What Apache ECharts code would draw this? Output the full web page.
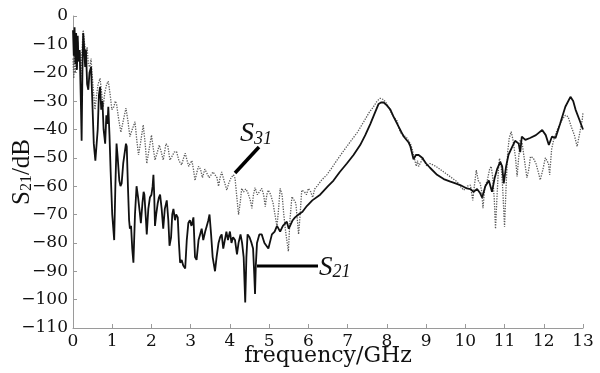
<!DOCTYPE html>
<html>
<head>
<meta charset="utf-8">
<script src="https://cdn.jsdelivr.net/npm/echarts@6/dist/echarts.min.js"></script>
<style>
  html, body { margin: 0; padding: 0; background: #fff; }
  #chart { width: 600px; height: 373px; }
</style>
</head>
<body>
<div id="chart"></div>
<script>
// S21 (solid), frequency in GHz and level in dB
const s21Freq = [0.00,0.02,0.04,0.06,0.08,0.10,0.12,0.14,0.17,0.20,0.22,0.24,0.26,0.28,0.31,0.33,0.36,0.39,0.42,0.46,
  0.49,0.53,0.57,0.60,0.63,0.66,0.69,0.72,0.75,0.78,0.82,0.85,0.88,0.90,0.93,0.96,1.00,1.05,1.08,1.11,
  1.14,1.18,1.21,1.24,1.28,1.31,1.35,1.37,1.40,1.43,1.45,1.48,1.51,1.54,1.58,1.62,1.66,1.70,1.73,1.77,
  1.80,1.82,1.86,1.88,1.92,1.96,2.00,2.03,2.05,2.07,2.09,2.12,2.16,2.19,2.22,2.26,2.30,2.34,2.39,2.43,
  2.46,2.50,2.53,2.56,2.60,2.63,2.67,2.70,2.73,2.77,2.81,2.86,2.90,2.94,2.98,3.02,3.07,3.11,3.15,3.20,
  3.24,3.28,3.32,3.37,3.41,3.45,3.48,3.52,3.56,3.62,3.66,3.71,3.75,3.79,3.83,3.87,3.91,3.95,4.00,4.04,
  4.08,4.13,4.18,4.22,4.27,4.31,4.35,4.39,4.42,4.45,4.50,4.55,4.59,4.62,4.64,4.66,4.69,4.75,4.81,4.88,
  4.98,5.07,5.14,5.20,5.28,5.35,5.45,5.50,5.54,5.60,5.66,5.75,5.85,5.96,6.10,6.30,6.50,6.64,6.80,6.98,
  7.15,7.32,7.45,7.58,7.70,7.79,7.85,7.92,8.00,8.09,8.17,8.30,8.43,8.55,8.60,8.68,8.74,8.81,8.90,9.00,
  9.10,9.28,9.45,9.62,9.75,9.87,10.04,10.13,10.21,10.30,10.38,10.43,10.51,10.60,10.68,10.75,10.81,10.89,10.94,10.98,
  11.04,11.10,11.20,11.27,11.32,11.36,11.40,11.44,11.53,11.65,11.80,11.96,12.05,12.13,12.21,12.30,12.42,12.55,12.68,12.75,
  12.81,12.92,13.00];
const s21Db = [-5,-14,-4,-17,-6,-19,-7,-16,-12,-30,-44,-20,-6,-10,-18,-12,-24,-26,-20,-18,
  -29,-45,-51,-51,-40,-28,-25,-33,-30,-40,-45,-35,-38,-32,-42,-55,-70,-79,-60,-45,
  -50,-58,-60,-59,-52,-49,-45,-46,-60,-72,-75,-74,-82,-87,-70,-60,-64,-69,-73,-66,
  -62,-63,-72,-77,-68,-64,-63,-60,-56,-63,-74,-70,-66,-64,-63,-68,-75,-68,-65,-72,
  -81,-78,-70,-68,-72,-70,-71,-80,-87,-86,-88,-89,-79,-73,-72,-74,-71,-85,-86,-79,
  -77,-75,-79,-76,-74,-72,-70,-77,-85,-90,-85,-80,-78,-77,-82,-79,-76,-79,-76,-80,
  -78,-79,-84,-80,-77,-80,-85,-101,-85,-77,-78,-80,-82,-91,-98,-88,-80,-77,-77,-80,
  -82,-77,-76,-74,-76,-74,-72.5,-75,-75,-72,-71,-70,-69,-67,-65,-63,-60,-58,-55,-52,
  -49,-45.5,-42,-38,-34,-31,-30.5,-30.5,-31.5,-33,-35.5,-39,-42.5,-44.5,-46,-50.5,-49,-49,-50,-52,
  -53.5,-56,-57.5,-58.4,-59,-59.6,-60.8,-61,-62,-61,-62.5,-64,-60,-58,-62,-57,-54,-51.4,-53,-59,
  -53,-49,-46,-44,-43.7,-45,-48,-42.5,-43.7,-43,-42,-40.2,-42,-45.5,-42.5,-43,-37.8,-32,-28.5,-30,
  -33,-37,-40];

// S31 (dotted)
const s31Freq = [0.00,0.02,0.04,0.06,0.08,0.10,0.12,0.15,0.18,0.20,0.23,0.26,0.29,0.33,0.36,0.39,0.43,0.46,0.49,0.53,
  0.56,0.60,0.64,0.69,0.73,0.77,0.81,0.86,0.90,0.95,0.99,1.04,1.08,1.11,1.16,1.22,1.28,1.35,1.40,1.45,
  1.51,1.58,1.62,1.67,1.73,1.79,1.84,1.88,1.94,2.00,2.04,2.09,2.15,2.20,2.25,2.30,2.37,2.42,2.47,2.52,
  2.58,2.64,2.70,2.77,2.82,2.86,2.91,2.95,3.03,3.07,3.11,3.16,3.20,3.25,3.30,3.36,3.41,3.47,3.52,3.57,
  3.62,3.67,3.71,3.75,3.79,3.85,3.92,3.97,4.03,4.09,4.13,4.17,4.22,4.26,4.30,4.35,4.40,4.45,4.52,4.56,
  4.60,4.64,4.70,4.75,4.81,4.86,4.90,4.94,4.98,5.04,5.10,5.16,5.20,5.24,5.28,5.33,5.37,5.42,5.49,5.53,
  5.58,5.63,5.68,5.72,5.75,5.79,5.83,5.90,5.95,6.00,6.06,6.11,6.16,6.22,6.34,6.47,6.60,6.73,6.90,7.07,
  7.25,7.41,7.55,7.66,7.75,7.83,7.92,8.00,8.09,8.17,8.26,8.34,8.43,8.51,8.60,8.64,8.70,8.75,8.78,8.81,
  8.85,8.92,9.02,9.10,9.15,9.25,9.35,9.45,9.55,9.65,9.79,9.87,9.96,10.05,10.13,10.19,10.23,10.28,10.33,10.38,
  10.42,10.45,10.50,10.56,10.62,10.66,10.70,10.74,10.77,10.80,10.84,10.87,10.91,10.95,11.00,11.04,11.08,11.12,11.17,11.22,
  11.28,11.32,11.36,11.40,11.45,11.50,11.57,11.62,11.66,11.73,11.80,11.86,11.91,11.98,12.04,12.08,12.12,12.15,12.20,12.25,
  12.34,12.45,12.55,12.62,12.70,12.78,12.85,12.92,12.98,13.00];
const s31Db = [-15,-22,-10,-20,-8,-18,-9,-16,-13,-22,-12,-5,-9,-14,-11,-17,-18,-15,-21,-28,
  -33,-28,-24,-22,-27,-32,-27,-24,-23,-28,-33,-32,-30,-31,-36,-41,-37,-32.5,-37,-42.5,
  -40,-37.3,-43,-49,-44,-38.4,-45,-52,-47,-42,-46,-50.8,-48,-45.5,-48,-50.8,-45,-46,-50.8,-51.4,
  -48,-47.8,-51,-52.5,-50,-48.4,-51,-53,-51,-54,-58,-55,-53,-54,-57,-54,-53.7,-57,-56,-55,
  -54.3,-57,-60,-57,-55,-58,-61.4,-59,-57,-56,-57.2,-63,-70,-66,-60.8,-62,-61,-62,-65,-67.8,
  -63,-60.5,-63,-63,-60.8,-63,-67.2,-63,-61.4,-63,-66,-71,-74.3,-68,-60.8,-63,-69.6,-76,-83,-72,
  -63.7,-63,-66,-72,-77,-70,-61.4,-62,-63,-60.8,-62,-64,-61,-60,-57.8,-56,-53.5,-50.8,-47.5,-44.3,
  -41,-37.3,-34,-32,-30,-29,-29.5,-31,-33.5,-35.5,-37,-41,-42,-43,-45,-46.7,-50,-53,-51,-53,
  -52,-50,-53,-52,-52,-53,-54,-55,-56,-57,-58.4,-60,-61.4,-60,-59.6,-65,-60,-54.3,-58,-59,
  -62,-67.8,-60,-58,-54,-53,-57,-65,-75,-66,-55,-50.2,-52,-60,-74.3,-60,-48,-43,-40.8,-44,
  -50,-56.6,-50,-43.7,-45,-50,-57,-54,-49.6,-50,-52,-55,-57.8,-54,-50,-49.6,-52,-56,-47,-43.7,
  -40.2,-37,-35,-35.5,-39,-42,-46,-41,-36.7,-34];

const zip = (xs, ys) => xs.map((x, i) => [x, ys[i]]);
const minus = v => String(v).replace('-', '\u2212');

const chart = echarts.init(document.getElementById('chart'));
chart.setOption({
  animation: false,
  backgroundColor: '#fff',
  grid: { left: 73, right: 17, top: 16, bottom: 45, outerBoundsMode: 'none' },
  xAxis: {
    type: 'value',
    min: 0,
    max: 13,
    interval: 1,
    name: 'frequency/GHz',
    nameLocation: 'middle',
    nameGap: 17,
    nameMoveOverlap: false,
    nameTextStyle: { fontFamily: 'DejaVu Serif', fontSize: 22, color: '#111' },
    axisLine: { onZero: false, lineStyle: { color: '#9a9a9a', width: 1 } },
    axisTick: { inside: true, length: 4, lineStyle: { color: '#9a9a9a' } },
    axisLabel: { fontFamily: 'DejaVu Serif', fontSize: 17, color: '#111', margin: 5 },
    splitLine: { show: false }
  },
  yAxis: {
    type: 'value',
    min: -110,
    max: 0,
    interval: 10,
    name: '{a|S}{b|21}{a|/dB}',
    nameLocation: 'middle',
    nameGap: 38,
    nameMoveOverlap: false,
    nameTextStyle: {
      rich: {
        a: { fontFamily: 'Liberation Serif', fontSize: 25, lineHeight: 26, color: '#111' },
        b: { fontFamily: 'Liberation Serif', fontSize: 16, lineHeight: 14, color: '#111', verticalAlign: 'bottom' }
      }
    },
    axisLine: { show: true, onZero: false, lineStyle: { color: '#9a9a9a', width: 1 } },
    axisTick: { show: true, inside: true, length: 4, lineStyle: { color: '#9a9a9a' } },
    axisLabel: { fontFamily: 'DejaVu Serif', fontSize: 17, color: '#111', margin: 5, formatter: minus },
    splitLine: { show: false }
  },
  series: [
    {
      name: 'S31',
      type: 'line',
      data: zip(s31Freq, s31Db),
      showSymbol: false,
      lineStyle: { color: '#5a5a5a', width: 1.3, type: 'dotted' },
      z: 2
    },
    {
      name: 'S21',
      type: 'line',
      data: zip(s21Freq, s21Db),
      showSymbol: false,
      lineStyle: { color: '#111', width: 1.8 },
      z: 3
    }
  ],
  graphic: [
    // leader lines and italic labels
    { type: 'line', shape: { x1: 235, y1: 173, x2: 259, y2: 147 }, style: { stroke: '#000', lineWidth: 3.5 } },
    { type: 'line', shape: { x1: 257, y1: 266, x2: 318, y2: 266 }, style: { stroke: '#000', lineWidth: 3 } },
    {
      type: 'text', left: 240, top: 120,
      style: {
        text: '{s|S}{n|31}',
        rich: {
          s: { fontFamily: 'Liberation Serif', fontStyle: 'italic', fontSize: 28, lineHeight: 28, fill: '#111' },
          n: { fontFamily: 'Liberation Serif', fontStyle: 'italic', fontSize: 18, lineHeight: 16, fill: '#111', verticalAlign: 'bottom' }
        }
      }
    },
    {
      type: 'text', left: 319, top: 254,
      style: {
        text: '{s|S}{n|21}',
        rich: {
          s: { fontFamily: 'Liberation Serif', fontStyle: 'italic', fontSize: 27, lineHeight: 27, fill: '#111' },
          n: { fontFamily: 'Liberation Serif', fontStyle: 'italic', fontSize: 18, lineHeight: 14, fill: '#111', verticalAlign: 'bottom' }
        }
      }
    }
  ]
});
</script>
</body>
</html>
